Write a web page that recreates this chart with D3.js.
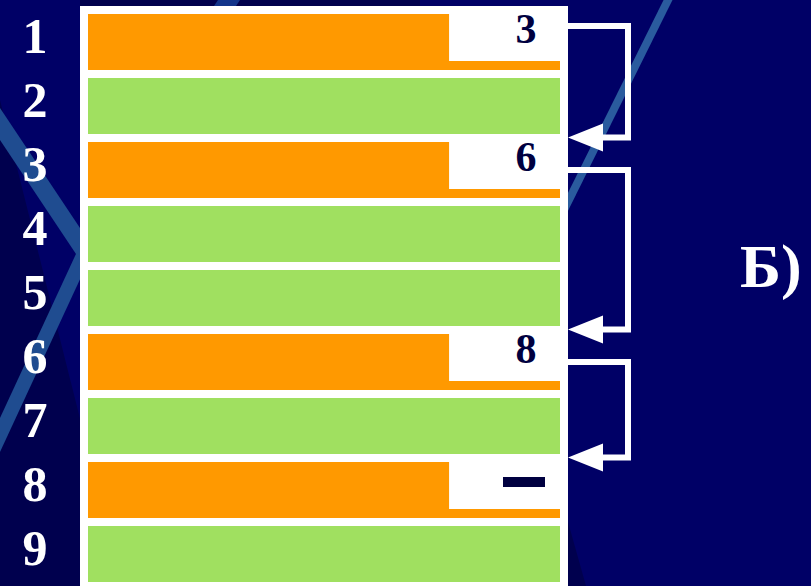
<!DOCTYPE html>
<html>
<head>
<meta charset="utf-8">
<script src="https://cdn.jsdelivr.net/npm/d3@7"></script>
<style>
  html, body { margin: 0; padding: 0; background: #000066; }
  svg { display: block; }
</style>
</head>
<body>
<div id="chart"></div>
<script>
// ---- data ----
const rowLabels = [1, 2, 3, 4, 5, 6, 7, 8, 9];
const rowKinds  = ["used", "free", "used", "free", "free", "used", "free", "used", "free"];
const usedRows  = [1, 3, 6, 8];
const nextRow   = [3, 6, 8, null];
const nextText  = ["3", "6", "8", "—"];
const sideLabel = "Б)";

// ---- setup ----
const W = 811, H = 586;
const svg = d3.select("#chart").append("svg").attr("width", W).attr("height", H);

const colors = { used: "#ff9900", free: "#a0e060" };

const y = d3.scaleBand().domain(rowLabels).range([10, 586]).paddingInner(0.125).paddingOuter(0.0625);
const x = d3.scaleLinear().domain([0, 1]).range([88, 560]);

// ---- background ----
svg.append("rect").attr("width", W).attr("height", H).attr("fill", "#000066");
const bg = svg.append("g");
// darker regions
bg.append("polygon").attr("points", "0,100 122,586 0,586").attr("fill", "#00004e");
bg.append("polygon").attr("points", "80,0 420,0 420,6 80,6").attr("fill", "#00004c");
bg.append("polygon").attr("points", "568,522 586,586 568,586").attr("fill", "#00004e");
// light stripes
bg.append("polygon").attr("points", "0,108 0,140 88,272 88,240").attr("fill", "#1f4c90");
bg.append("polygon").attr("points", "0,418 0,452 88,262 88,228").attr("fill", "#1f4c90");
bg.append("polygon").attr("points", "218,0 240,0 236,6 214,6").attr("fill", "#12348a");
bg.append("line").attr("x1", 669).attr("y1", -2).attr("x2", 560).attr("y2", 218)
  .attr("stroke", "#2a5b9e").attr("stroke-width", 8);

// ---- panel ----
svg.append("rect").attr("x", 80).attr("y", 6).attr("width", 488).attr("height", 580).attr("fill", "#ffffff");

// bars
svg.append("g").selectAll("rect").data(rowLabels).join("rect")
  .attr("x", x(0))
  .attr("y", d => y(d))
  .attr("width", x(1) - x(0))
  .attr("height", y.bandwidth())
  .attr("fill", (d, i) => colors[rowKinds[i]]);

// white pointer boxes on used rows
const boxStart = 0.765;
const ptr = svg.append("g");
ptr.selectAll("rect").data(usedRows).join("rect")
  .attr("x", x(boxStart))
  .attr("y", d => y(d))
  .attr("width", x(1) - x(boxStart))
  .attr("height", y.bandwidth() - 9)
  .attr("fill", "#ffffff");

ptr.selectAll("text").data(usedRows.filter((d, i) => nextRow[i] !== null)).join("text")
  .attr("x", 526)
  .attr("y", d => y(d) + 29)
  .attr("text-anchor", "middle")
  .attr("font-family", "'Liberation Serif', 'Times New Roman', serif")
  .attr("font-weight", "bold")
  .attr("font-size", 42)
  .attr("fill", "#000040")
  .text(d => nextText[usedRows.indexOf(d)]);

// null pointer dash
ptr.selectAll("rect.null").data(usedRows.filter((d, i) => nextRow[i] === null)).join("rect")
  .attr("class", "null")
  .attr("x", 503)
  .attr("y", d => y(d) + 15)
  .attr("width", 42)
  .attr("height", 10)
  .attr("fill", "#000040")
  .append("title").text(nextText[3]);

// row labels
svg.append("g").selectAll("text").data(rowLabels).join("text")
  .attr("x", 35)
  .attr("y", d => y(d) + 39)
  .attr("text-anchor", "middle")
  .attr("font-family", "'Liberation Serif', 'Times New Roman', serif")
  .attr("font-weight", "bold")
  .attr("font-size", 50)
  .attr("fill", "#ffffff")
  .text(d => d);

// ---- link arrows ----
const links = usedRows.map((d, i) => ({ from: d, to: nextRow[i], i })).filter(l => l.to !== null);
const arrows = svg.append("g");
const xEdge = 568, xV = 628, xHead = 603;
links.forEach(l => {
  const y0 = y(l.from) + (l.i === 0 ? 12 : 28);
  const y1 = y(l.to) - 4.5;
  arrows.append("path")
    .attr("d", `M${xEdge},${y0} H${xV} V${y1} H${xHead - 1}`)
    .attr("fill", "none")
    .attr("stroke", "#ffffff")
    .attr("stroke-width", 6)
    .attr("stroke-linejoin", "miter");
  arrows.append("polygon")
    .attr("points", `${xEdge},${y1} ${xHead},${y1 - 14} ${xHead},${y1 + 14}`)
    .attr("fill", "#ffffff");
});

// side label
svg.append("text")
  .attr("x", 740)
  .attr("y", 287)
  .attr("font-family", "'Liberation Serif', 'Times New Roman', serif")
  .attr("font-weight", "bold")
  .attr("font-size", 62)
  .attr("fill", "#ffffff")
  .text(sideLabel);
</script>
</body>
</html>
